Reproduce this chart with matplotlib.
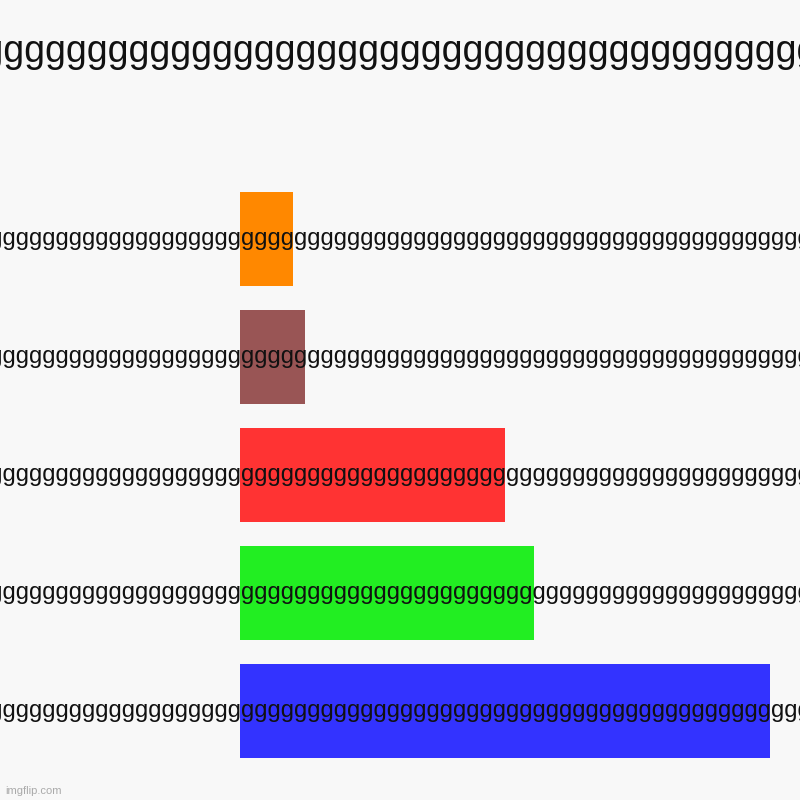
import matplotlib.pyplot as plt

labels = ['g' * 80] * 5
values = [9, 11, 45, 50, 90]
colors = ['#ff8800', '#995555', '#ff3333', '#22ee22', '#3333ff']
title = 'g' * 50

plt.rcParams['font.family'] = ['Liberation Sans', 'DejaVu Sans']

fig = plt.figure(figsize=(8, 8), dpi=100, facecolor='#f8f8f8')
ax = fig.add_axes([0.3, 0.0525, 0.6625, 0.7075])
ax.set_facecolor('#f8f8f8')
ypos = list(range(len(values)))
ax.barh(ypos, values, height=0.8, color=colors, zorder=1)
ax.set_xlim(0, max(values))
ax.set_ylim(len(values) - 0.6, -0.4)
ax.axis('off')

# long labels run over the bars, centered on the figure
for y, lab in zip(ypos, labels):
    yf = ax.transData.transform((0, y))[1]
    yf = fig.transFigure.inverted().transform((0, yf))[1]
    fig.text(0.5, yf, lab, ha='center', va='center', fontsize=17, color='#111111', zorder=5)

fig.text(0.5, 1 - 52 / 800, title, ha='center', va='center', fontsize=27, color='#111111')
fig.text(5 / 800, 1 - 791 / 800, 'imgflip.com', ha='left', va='center', fontsize=8, color='#aaaaaa')

fig.savefig('out.png', facecolor=fig.get_facecolor())
